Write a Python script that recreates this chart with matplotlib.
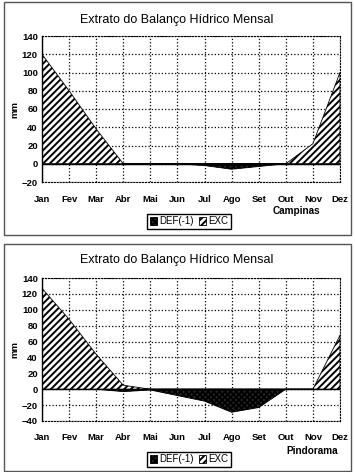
import matplotlib
matplotlib.use("Agg")
import matplotlib.pyplot as plt
from matplotlib.patches import Rectangle

plt.rcParams['font.family'] = ['Liberation Sans', 'DejaVu Sans']
plt.rcParams['hatch.linewidth'] = 1.4

meses = ['Jan', 'Fev', 'Mar', 'Abr', 'Mai', 'Jun', 'Jul', 'Ago', 'Set', 'Out', 'Nov', 'Dez']

campinas_exc = [120, 80, 38, 0, 0, 0, 0, 0, 0, 0, 22, 100]
campinas_def = [0, 0, 0, -1, 0, 0, -2, -6, -3, 0, 0, 0]

pindorama_exc = [127, 88, 44, 5, 0, 0, 0, 0, 0, 0, 0, 68]
pindorama_def = [0, 0, 0, -3, -1, -8, -15, -29, -23, 0, 0, 0]

W, H = 355, 472
fig = plt.figure(figsize=(W / 100, H / 100), dpi=100)


def px_axes(x0, y0, x1, y1):
    return fig.add_axes([x0 / W, 1 - y1 / H, (x1 - x0) / W, (y1 - y0) / H])


def panel(box, area, exc, dfc, ymin, local, leg_y, loc_xy, title_y):
    fig.patches.append(Rectangle((box[0] / W, 1 - box[3] / H), (box[2] - box[0]) / W,
                                 (box[3] - box[1]) / H, transform=fig.transFigure,
                                 fill=False, edgecolor='#555555', lw=1.0))
    ax = px_axes(*area)
    x = list(range(len(meses)))
    h_def = ax.fill_between(x, dfc, 0, facecolor='#2a2a2a', edgecolor='black',
                            hatch='xxxxxx', lw=0.6, label='DEF(-1)', zorder=2)
    h_exc = ax.fill_between(x, exc, 0, facecolor='white', edgecolor='black',
                            hatch='/////', lw=0.6, label='EXC', zorder=2)
    ax.axhline(0, color='black', lw=1.0, zorder=3)
    ax.set_xlim(0, 11)
    ax.set_ylim(ymin, 140)
    ax.set_yticks(range(ymin, 141, 20))
    ax.set_xticks(x)
    ax.set_xticklabels(meses)
    ax.grid(True, color='black', linestyle=':', lw=0.9, zorder=1)
    ax.set_axisbelow(True)
    ax.tick_params(axis='both', length=0, labelsize=6.8)
    ax.tick_params(axis='x', pad=9)
    ax.tick_params(axis='y', pad=3)
    for lab in ax.get_xticklabels() + ax.get_yticklabels():
        lab.set_fontweight('bold')
    for s in ['top', 'right', 'bottom']:
        ax.spines[s].set_linestyle(':')
    ax.spines['left'].set_linewidth(1.0)
    ax.set_ylabel('mm', fontsize=6.8, fontweight='bold', labelpad=2)
    fig.text(177 / W, 1 - title_y / H, 'Extrato do Balanço Hídrico Mensal',
             ha='center', va='center', fontsize=9)
    fig.text(loc_xy[0] / W, 1 - loc_xy[1] / H, local, ha='center', va='center',
             fontsize=7.2, fontweight='bold')
    fig.legend(handles=[h_def, h_exc], loc='center', ncol=2,
               bbox_to_anchor=(189 / W, 1 - leg_y / H), fontsize=7,
               frameon=True, fancybox=False, edgecolor='black', framealpha=1,
               handlelength=0.8, handleheight=0.8, handletextpad=0.2,
               columnspacing=0.5, borderpad=0.25, borderaxespad=0)
    return ax


panel((4, 2, 351, 235), (42, 36, 340, 182), campinas_exc, campinas_def, -20,
      'Campinas', 221.5, (296, 211), 20)
panel((4, 244, 351, 471), (42, 278, 340, 421), pindorama_exc, pindorama_def, -40,
      'Pindorama', 459.5, (312, 451), 260)

fig.savefig('out.png', dpi=100)
